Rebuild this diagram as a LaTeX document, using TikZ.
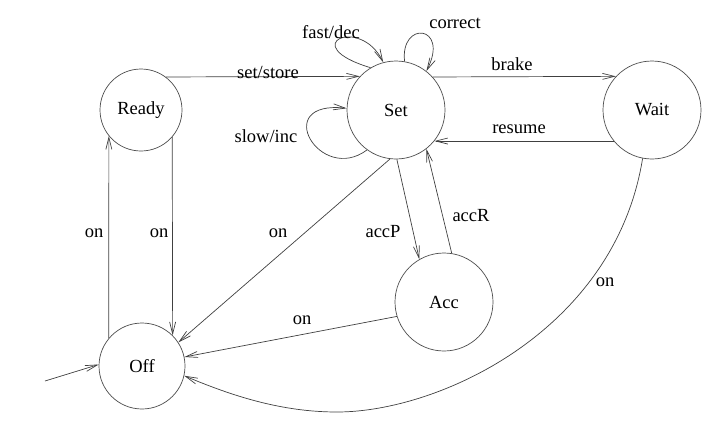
\documentclass[tikz,border=0pt]{standalone}
\usepackage{fontspec}
\setmainfont{Liberation Serif}
\usetikzlibrary{arrows.meta}
\begin{document}
\begin{tikzpicture}[x=1pt,y=-1pt,
  state/.style={circle,draw=black!70,line width=0.7pt,inner sep=0pt,font=\fontsize{18.5}{22}\selectfont},
  lbl/.style={font=\fontsize{18.5}{22}\selectfont,inner sep=0pt},
  edge/.style={draw=black!75,line width=0.7pt,-{Straight Barb[length=12pt,width=6pt]}},
]
\useasboundingbox (0,0) rectangle (728,429);
% states
\node[state,minimum size=82pt] (Ready) at (141,110) {Ready};
\node[state,minimum size=98pt] (Set) at (396,110) {Set};
\node[state,minimum size=98pt] (Wait) at (652,110) {Wait};
\node[state,minimum size=98pt] (Acc) at (444,302) {Acc};
\node[state,minimum size=86pt] (Off) at (142,366) {Off};
\coordinate (init) at (45,381);
\coordinate (bot) at (337,412);
% edges
\draw[edge] (init) -- (Off.178);
\draw[edge] (Ready.53.6) -- (Set.137.7);
\draw[edge] (Set.42.3) -- (Wait.137.7);
\draw[edge] (Wait.219.2) -- (Set.-39.2);
\draw[edge] (Off.140) -- (Ready.219);
\draw[edge] (Ready.-41) -- (Off.45);
\draw[edge] (Set.263) -- (Off.33);
\draw[edge] (Set.271) -- (Acc.120);
\draw[edge] (Acc.81) -- (Set.-52.5);
\draw[edge] (Acc.197.7) -- (Off.12.4);
\draw[edge] (Wait.259) .. controls (615,330) and (440,412) .. (bot)
  .. controls (280,412) and (230,395) .. (Off.-13);
% self loops
\draw[edge] (Set.121) .. controls (295,45) and (360,15) .. (Set.105);
\draw[edge] (Set.80) .. controls (400,20) and (450,25) .. (Set.52);
\draw[edge] (Set.234) .. controls (320,185) and (270,100) .. (Set.178);
% labels
\node[lbl] (lsetstore) at (268,72) {set/store};
\node[lbl] (lbrake) at (512,64) {brake};
\node[lbl] (lresume) at (519,129) {resume};
\node[lbl] (lfast) at (331,32) {fast/dec};
\node[lbl] (lcorrect) at (455,23) {correct};
\node[lbl] (lslow) at (266,136) {slow/inc};
\node[lbl] (lon1) at (94,233) {on};
\node[lbl] (lon2) at (159,233) {on};
\node[lbl] (lon3) at (278,233) {on};
\node[lbl] (laccP) at (383,232) {accP};
\node[lbl] (laccR) at (471,216) {accR};
\node[lbl] (lon4) at (302,320) {on};
\node[lbl] (lon5) at (605,282) {on};
\end{tikzpicture}
\end{document}
